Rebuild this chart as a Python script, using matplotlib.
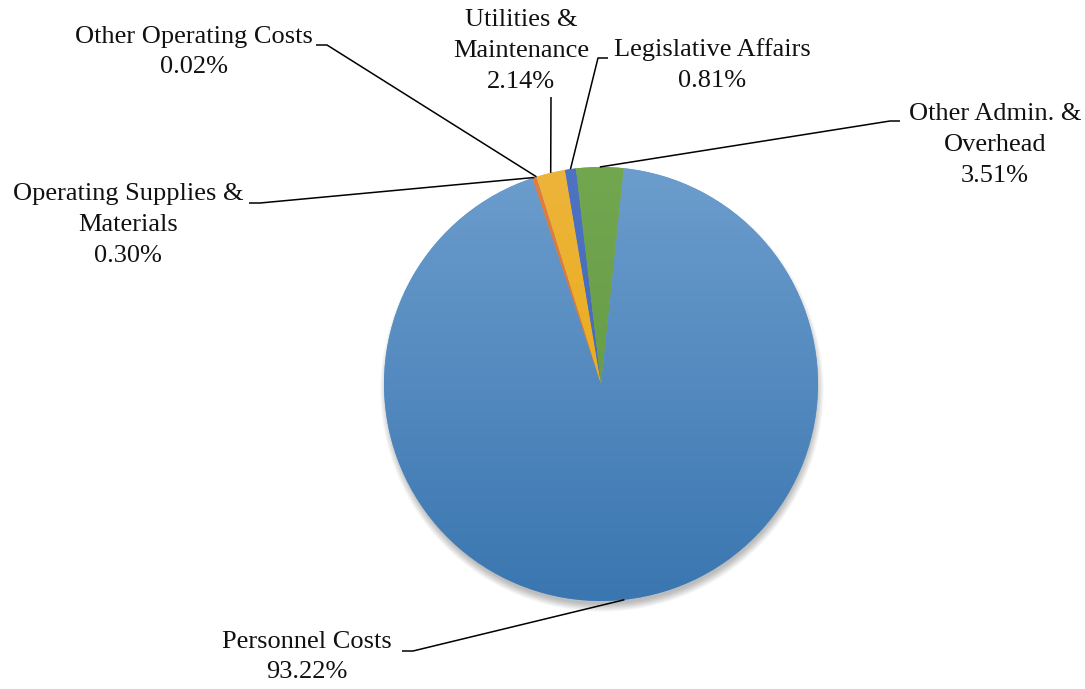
import numpy as np
import matplotlib
matplotlib.use("Agg")
import matplotlib.pyplot as plt
from matplotlib.colors import to_rgb, LinearSegmentedColormap
from matplotlib.patches import Circle

categories = ["Personnel Costs", "Operating Supplies &\nMaterials", "Other Operating Costs",
              "Utilities &\nMaintenance", "Legislative Affairs", "Other Admin. &\nOverhead"]
shares = [93.22, 0.30, 0.02, 2.14, 0.81, 3.51]
pct_labels = ["93.22%", "0.30%", "0.02%", "2.14%", "0.81%", "3.51%"]

top_colors = ["#6C9DCD", "#E47E3C", "#A8A8A8", "#EDB43C", "#4E73C2", "#72A64F"]
bot_colors = ["#3A76B0", "#D06A25", "#8F8F8F", "#E6A800", "#3E63B0", "#5F9440"]

W, H = 1085, 689
fig = plt.figure(figsize=(W / 100, H / 100), dpi=100)
ax = fig.add_axes([0, 0, 1, 1])
plt.rcParams["font.family"] = ["Liberation Serif", "DejaVu Serif"]

cx, cy, R = 601, H - 384, 217

# soft shadow, mostly below the pie
for i in range(14):
    ax.add_patch(Circle((cx + 1, cy - 6), R - 3 + i * 0.6, facecolor="black",
                        edgecolor="none", alpha=0.02, zorder=0))

wedges, _ = ax.pie(shares, center=(cx, cy), radius=R, startangle=84, counterclock=False,
                   colors=top_colors, frame=True, wedgeprops=dict(linewidth=0, zorder=2))

grad = np.linspace(0, 1, 256).reshape(-1, 1)
for w, c0, c1 in zip(wedges, top_colors, bot_colors):
    cmap = LinearSegmentedColormap.from_list("g", [to_rgb(c1), to_rgb(c0)])
    im = ax.imshow(grad, cmap=cmap, extent=(cx - R, cx + R, cy - R, cy + R),
                   origin="lower", aspect="auto", zorder=3, interpolation="bilinear")
    im.set_clip_path(w)

ax.set_xlim(0, W)
ax.set_ylim(0, H)
ax.set_aspect("auto")
ax.axis("off")

# label layout (pixel positions of label centers, and leader start/knee points)
label_pos = [(307, 657), (128, 225), (194, 52), (521, 51), (712, 65), (995, 145)]
leader_pts = [
    [(402, 651), (413, 651)],
    [(249, 203), (260, 203)],
    [(316, 45), (327, 45)],
    [(551, 97)],
    [(608, 58), (598, 58)],
    [(900, 121), (890, 121)],
]

for w, cat, pl, (lx, ly), pts in zip(wedges, categories, pct_labels, label_pos, leader_pts):
    ax.text(lx, H - ly, cat + "\n" + pl, ha="center", va="center", multialignment="center",
            fontsize=19, linespacing=1.52, color="#111111", zorder=6,
            family=["Liberation Serif", "DejaVu Serif"])
    mid = np.deg2rad((w.theta1 + w.theta2) / 2)
    ex, ey = cx + R * np.cos(mid), cy + R * np.sin(mid)
    xs = [p[0] for p in pts] + [ex]
    ys = [H - p[1] for p in pts] + [ey]
    ax.plot(xs, ys, color="black", linewidth=1.1, zorder=5, solid_capstyle="butt")

fig.savefig("out.png", dpi=100, facecolor="white")
